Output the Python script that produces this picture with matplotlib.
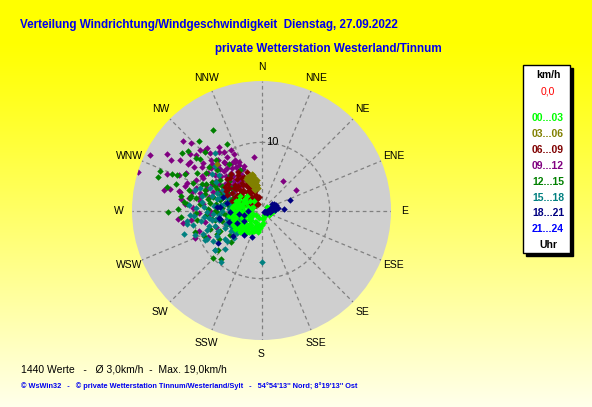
import numpy as np
import matplotlib
matplotlib.use("Agg")
import matplotlib.pyplot as plt
from matplotlib.patches import Rectangle

plt.rcParams['font.family'] = ['Liberation Sans', 'DejaVu Sans']

W, H = 592, 407

# wind direction (deg, from N clockwise) / speed (km/h), one list pair per 3 hours
d_0003 = [185, 190, 195, 200, 205, 210, 215, 218, 222, 225, 228, 230, 232, 235, 238, 240, 242, 245, 248, 250,
          252, 255, 258, 260, 262, 265, 268, 270, 272, 275, 278, 280, 283, 286, 288, 290, 293, 296, 300, 305,
          310, 315, 320, 200, 230, 250, 175, 170, 160, 150, 120, 100, 90, 80, 70, 60, 95, 215, 205, 222,
          235, 245, 255, 212, 198, 188, 180, 228, 240, 265, 275, 194, 230,
          205, 215, 225, 235, 245, 255, 265, 270, 280, 285, 290, 295, 300, 305, 230, 240, 250, 260, 220, 210,
          200, 195, 190, 255, 245, 262, 278, 225, 235, 110, 75]
v_0003 = [2.6, 2.2, 2.8, 2.4, 3.0, 2.0, 3.6, 3.2, 2.6, 3.4, 3.9, 3.0, 3.4, 2.2, 4.0, 3.6, 4.2, 2.8, 4.4, 4.0,
          3.2, 2.4, 3.8, 4.3, 1.8, 3.0, 2.2, 2.6, 3.4, 1.6, 3.8, 2.8, 3.4, 2.0, 3.6, 3.0, 1.4, 2.6, 3.0, 3.8,
          2.2, 3.0, 1.8, 1.2, 1.0, 1.4, 1.8, 1.2, 1.0, 0.8, 1.2, 1.6, 1.9, 2.2, 1.5, 1.0, 1.1, 4.0, 3.4, 4.2,
          4.4, 4.6, 4.4, 3.0, 3.0, 3.2, 2.2, 2.0, 1.6, 4.2, 4.4, 2.9, 2.2,
          1.8, 2.6, 3.0, 3.8, 4.0, 4.0, 3.6, 4.0, 4.2, 3.8, 4.0, 3.6, 2.8, 3.0, 4.2, 4.6, 4.8, 4.8, 3.8, 3.6,
          3.2, 3.0, 3.0, 3.0, 2.0, 2.6, 3.2, 4.4, 4.8, 1.4, 1.2]

d_0306 = [336, 338, 340, 342, 344, 346, 348, 350, 345, 352, 340, 343, 339, 342, 347, 349, 341, 344,
          337, 345, 349, 316, 334, 351]
v_0306 = [4.8, 4.2, 5.0, 5.4, 4.4, 4.7, 5.0, 3.8, 4.1, 3.4, 3.8, 4.6, 5.2, 4.0, 5.3, 4.2, 3.4, 3.2,
          5.4, 5.6, 3.8, 9.5, 5.2, 4.6]

d_0609 = [300, 302, 304, 306, 308, 310, 312, 314, 316, 318, 320, 322, 324, 326, 328, 330, 332, 334, 336, 338,
          340, 342, 344, 298, 296, 294, 292, 290, 310, 318, 326, 304, 312, 320, 328, 315, 323, 331, 307, 299,
          335, 339, 346, 350, 288, 286, 301, 333, 313, 321,
          303, 309, 314, 317, 325, 327, 329, 333, 337, 297, 305, 315, 324, 330]
v_0609 = [5.0, 4.2, 5.8, 3.6, 6.2, 4.8, 3.0, 5.4, 6.6, 4.0, 2.6, 5.8, 3.4, 6.2, 4.4, 2.2, 5.6, 3.6, 1.8, 4.8,
          3.0, 2.4, 4.2, 3.0, 4.4, 5.6, 2.4, 3.6, 1.6, 2.0, 1.4, 2.2, 6.8, 7.0, 6.6, 3.8, 4.6, 4.0, 4.0, 6.0,
          5.2, 6.0, 3.4, 2.0, 4.6, 3.2, 1.2, 1.0, 4.4, 3.4,
          6.4, 5.2, 2.6, 5.0, 5.0, 3.0, 5.6, 4.8, 3.0, 2.0, 3.0, 1.2, 2.6, 3.4]

d_0912 = [287.5, 296.6, 311.5, 314, 299, 351.6, 35.6, 59.6, 247.3, 264, 261, 291.3, 283, 283.5, 304.4, 301.8,
          314.5, 317, 331.5, 333.4, 335.7, 295, 298, 300, 302, 305, 307, 309, 311, 313, 315, 317, 319, 321,
          323, 325, 327, 329, 331, 306, 300, 294, 292, 289, 286, 290, 303, 310, 318, 324, 312, 320, 297, 284,
          280, 276, 272, 268, 266, 258, 252, 244, 296, 308, 282, 278, 293, 250, 250.4, 301, 283.5, 278.8,
          305, 308, 311, 314, 317, 320, 323, 326, 329, 332, 335, 338, 310, 316, 322, 328, 334, 303, 299, 295,
          306, 313, 319, 326, 333, 302, 309, 315, 321, 327, 330, 318, 296, 291, 288, 285, 281, 275, 270, 262]
v_0912 = [19.0, 18.3, 15.3, 14.3, 15.2, 8.0, 5.4, 5.9, 10.6, 12.3, 11.7, 14.9, 12.3, 13.8, 12.7, 14.0,
          12.6, 12.1, 8.1, 7.5, 6.7, 9.0, 8.2, 10.0, 7.4, 9.6, 8.6, 11.0, 7.8, 9.2, 10.4, 8.0, 9.8, 7.0,
          8.8, 7.6, 9.4, 6.8, 6.2, 6.6, 6.0, 7.0, 8.6, 10.2, 9.4, 11.6, 11.8, 12.6, 11.4, 10.6, 5.6, 5.2, 5.4, 8.0,
          10.8, 8.6, 10.0, 9.2, 7.6, 8.4, 9.6, 8.8, 12.4, 13.4, 14.6, 12.0, 13.2, 5.6, 7.1, 16.1, 12.5, 9.1,
          5.0, 5.8, 6.4, 7.2, 6.0, 6.6, 5.6, 6.0, 7.4, 8.4, 7.8, 7.0, 9.6, 9.2, 9.0, 8.2, 9.2, 8.0, 9.8, 10.6,
          10.8, 10.0, 12.2, 11.2, 10.0, 12.8, 8.0, 8.6, 8.0, 10.2, 5.4, 4.8, 6.4, 7.6, 11.8, 10.6, 9.4, 11.2, 7.6, 10.4]

d_1215 = [329.3, 317.8, 333, 265.7, 268.8, 271, 284, 288, 291, 280, 275, 295.8, 309, 318, 332, 225.6,
          306, 309, 292.4, 293, 287.3, 282, 285.7, 280.5, 310,
          255, 260, 262, 265, 268, 270, 272, 274, 276, 278, 280, 282, 284, 286, 288, 290, 292, 294, 296, 298,
          300, 304, 306, 248, 244, 240, 236, 232, 228, 224, 258, 266, 286, 300, 276, 262, 252, 246, 220, 312,
          318, 325,
          262, 266, 270, 274, 278, 282, 286, 290, 294, 298, 302, 258, 254, 250, 268, 280, 292, 300, 306, 312,
          248, 242, 238, 272, 284, 296, 310, 316]
v_1215 = [13.8, 13.7, 11.0, 11.8, 13.7, 12.3, 14.3, 16.0, 16.0, 12.0, 10.9, 12.4, 12.3, 9.9, 6.7, 10.0,
          14.4, 13.8, 14.2, 13.5, 13.2, 10.5, 11.1, 9.7, 11.8,
          6.0, 7.4, 5.2, 8.2, 6.6, 4.4, 7.8, 5.8, 9.0, 6.8, 5.0, 8.0, 6.2, 7.4, 4.8, 8.8, 6.6, 9.6, 7.2, 5.6,
          8.4, 9.8, 7.6, 5.4, 6.8, 4.6, 7.6, 5.8, 8.6, 6.4, 3.8, 3.2, 3.6, 4.2, 11.4, 9.6, 10.2, 9.2, 9.2, 8.8,
          7.0, 8.4,
          4.4, 5.6, 6.8, 4.0, 7.6, 5.4, 8.6, 6.0, 4.6, 7.8, 6.8, 7.0, 5.0, 8.0, 9.6, 10.6, 10.8, 11.0, 5.6, 6.4,
          3.8, 7.4, 5.0, 3.0, 4.4, 9.0, 10.0, 12.0]

d_1518 = [179, 218, 229.6, 223.5, 242.6, 260, 266, 321, 261.7, 253, 265.6, 274, 287, 250.5, 242.4, 229.7,
          228.5, 225, 227.4, 264, 259,
          245, 250, 254, 258, 262, 266, 270, 274, 278, 282, 286, 290, 294, 298, 302, 306, 310, 314, 246, 256,
          268, 280, 292, 236, 232, 238, 248, 260, 272, 284, 276, 264, 252, 288, 300, 240,
          244, 248, 252, 256, 260, 264, 268, 272, 276, 280, 284, 288, 292, 296, 234, 230, 242, 254, 266, 278,
          290, 258, 250, 240, 262, 274]
v_1518 = [7.5, 9.6, 9.0, 7.8, 9.0, 11.1, 10.5, 10.9, 11.1, 11.9, 10.0, 10.7, 10.2, 8.5, 9.3, 8.9,
          6.8, 5.8, 4.9, 8.5, 7.4,
          7.0, 5.6, 8.0, 6.4, 4.8, 7.2, 5.8, 8.4, 6.0, 4.6, 7.6, 5.4, 8.2, 6.4, 7.8, 9.0, 8.2, 9.4, 4.2, 3.6,
          3.4, 3.0, 3.8, 5.4, 6.8, 8.4, 9.2, 9.0, 9.6, 9.0, 4.2, 6.2, 7.2, 6.4, 5.0, 3.4,
          6.0, 3.6, 4.6, 5.2, 6.8, 4.0, 8.0, 4.8, 7.0, 5.4, 6.8, 4.2, 7.0, 6.0, 4.2, 5.0, 5.0, 2.8, 2.6, 8.8,
          9.6, 10.2, 10.4, 7.6, 7.8, 6.4]

d_1821 = [60, 65, 68, 70, 72, 75, 78, 80, 82, 85, 88, 90, 92, 95, 100, 105, 110, 120, 69.8, 86,
          233.5, 259, 243, 275, 262, 250, 268, 238, 282, 228, 255, 270, 215, 290, 274.4, 259.8, 200.5]
v_1821 = [1.8, 2.1, 2.3, 1.6, 2.0, 1.4, 1.8, 2.4, 1.2, 1.6, 2.0, 1.0, 1.4, 0.8, 1.2, 0.6, 0.9, 0.5, 4.4, 3.3,
          8.0, 6.2, 4.1, 6.6, 3.4, 5.0, 4.6, 3.0, 5.2, 5.6, 2.6, 2.0, 4.4, 6.0, 6.1, 6.4, 4.1]

d_2124 = [75, 85, 95, 80, 100]
v_2124 = [1.0, 1.2, 1.5, 0.6, 0.9]

hours = ["00...03", "03...06", "06...09", "09...12", "12...15", "15...18", "18...21", "21...24"]
colors = ["#00FF00", "#808000", "#800000", "#800080", "#008000", "#008080", "#000080", "#0000FF"]
series = [(d_0003, v_0003), (d_0306, v_0306), (d_0609, v_0609), (d_0912, v_0912),
          (d_1215, v_1215), (d_1518, v_1518), (d_1821, v_1821), (d_2124, v_2124)]
draw_order = [7, 3, 4, 5, 2, 1, 0, 6]

dirs16 = ["N", "NNE", "NE", "ENE", "E", "ESE", "SE", "SSE",
          "S", "SSW", "SW", "WSW", "W", "WNW", "NW", "NNW"]
vmax = 19.0

fig = plt.figure(figsize=(W / 100, H / 100), dpi=100)

# background gradient yellow -> pale
bg = fig.add_axes([0, 0, 1, 1], zorder=-10)
yy = np.linspace(0, 1, H)
blue = np.clip((yy - 0.1) / 0.9, 0, 1) ** 1.1 * 235
img = np.zeros((H, 2, 3))
img[:, :, 0] = 1
img[:, :, 1] = 1
img[:, :, 2] = (blue / 255)[:, None]
bg.imshow(img, aspect='auto', extent=[0, 1, 0, 1])
bg.axis('off')

def fx(x):
    return x / W

def fy(y):
    return 1 - y / H

cx, cy, R = 261.5, 210.5, 129.5
ax = fig.add_axes([fx(cx - R), fy(cy + R), 2 * R / W, 2 * R / H], projection='polar')
ax.set_theta_zero_location('N')
ax.set_theta_direction(-1)
ax.set_facecolor('#CFCFCF')
ax.set_ylim(0, vmax)
ax.set_xticks([])
ax.set_yticks([])
ax.grid(False)
ax.spines['polar'].set_visible(False)

dash = (0, (3, 2.5))
for k in range(16):
    th = np.deg2rad(k * 22.5)
    ax.plot([th, th], [0.6, vmax], color='#808080', lw=0.9, ls=dash, zorder=1)
tt = np.linspace(0, 2 * np.pi, 200)
ax.plot(tt, np.full_like(tt, 10), color='#808080', lw=0.9, ls=dash, zorder=1)

for k, name in enumerate(dirs16):
    ax.text(np.deg2rad(k * 22.5), 21.0, name, ha='center', va='center',
            fontsize=7.5, clip_on=False)

ax.annotate('10', xy=(0, 10), xytext=(3, 0), textcoords='offset points',
            ha='left', va='center', fontsize=8, zorder=2)
ax.annotate('0', xy=(0, 0), xytext=(3, -1), textcoords='offset points',
            ha='left', va='center', fontsize=8, zorder=2)

for i in draw_order:
    d, v = series[i]
    ax.scatter(np.deg2rad(d), v, marker='D', s=11, color=colors[i], linewidths=0, zorder=3)

# titles
fig.text(fx(20), fy(25), "Verteilung Windrichtung/Windgeschwindigkeit  Dienstag, 27.09.2022",
         color='#0000EE', fontsize=8.4, fontweight='bold', ha='left', va='center')
fig.text(fx(215), fy(49), "private Wetterstation Westerland/Tinnum",
         color='#0000EE', fontsize=8.4, fontweight='bold', ha='left', va='center')

# legend box with shadow
bx0, bx1, by0, by1 = 523, 570, 65, 253
fig.patches.append(Rectangle((fx(bx0 + 3), fy(by1 + 3)), (bx1 - bx0) / W, (by1 - by0) / H,
                             transform=fig.transFigure, facecolor='black', edgecolor='black', zorder=1))
fig.patches.append(Rectangle((fx(bx0), fy(by1)), (bx1 - bx0) / W, (by1 - by0) / H,
                             transform=fig.transFigure, facecolor='white', edgecolor='black', lw=1, zorder=2))
lx = 548
fig.text(fx(lx), fy(75), "km/h", fontsize=7.5, fontweight='bold', ha='center', va='center', zorder=3)
fig.text(fx(lx), fy(91), "0,0", fontsize=7.5, color='red', ha='center', va='center', zorder=3)
for i, (lab, c) in enumerate(zip(hours, colors)):
    fig.text(fx(lx), fy(118.3 + i * 15.85), lab, fontsize=7.5, fontweight='bold', color=c,
             ha='center', va='center', zorder=3)
fig.text(fx(lx), fy(245), "Uhr", fontsize=7.5, fontweight='bold', ha='center', va='center', zorder=3)

# footer
fig.text(fx(21), fy(369.5), "1440 Werte   -   Ø 3,0km/h  -  Max. 19,0km/h",
         fontsize=7.5, ha='left', va='center')
fig.text(fx(21), fy(386), "© WsWin32   -   © private Wetterstation Tinnum/Westerland/Sylt   -   54°54'13'' Nord; 8°19'13'' Ost",
         fontsize=5.3, color='#0000EE', fontweight='bold', ha='left', va='center')

fig.savefig("out.png", dpi=100)
